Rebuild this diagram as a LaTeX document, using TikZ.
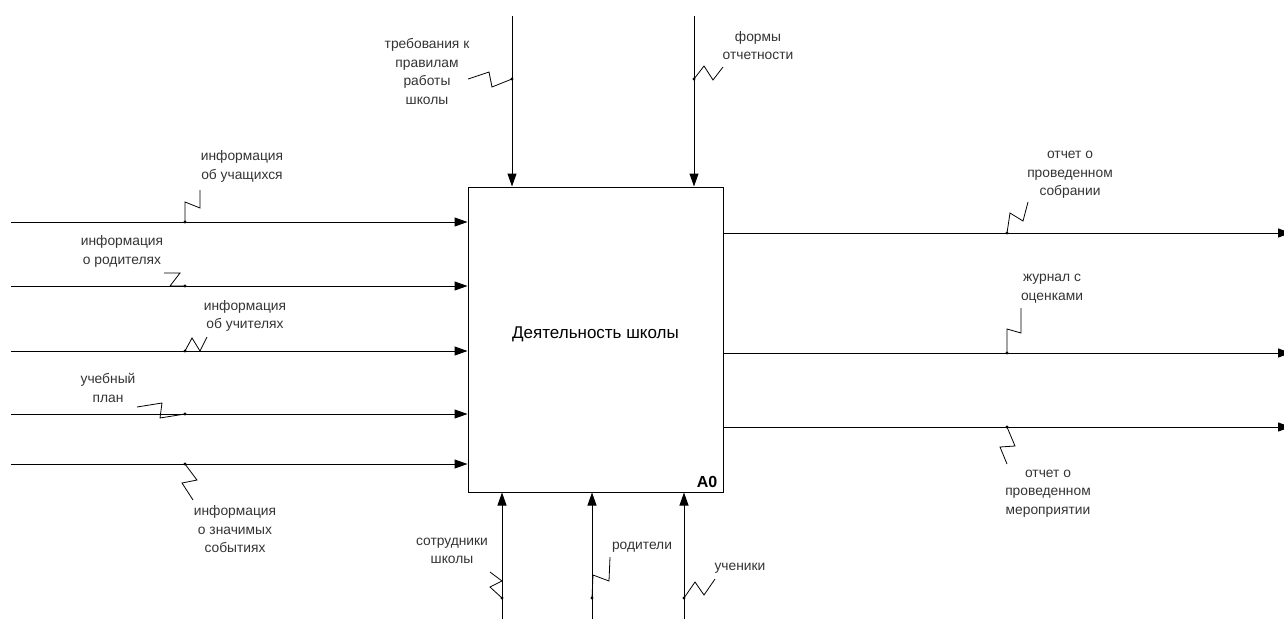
\documentclass[tikz,border=0pt]{standalone}
\usepackage{fontspec}
\setmainfont{Liberation Sans}
\usetikzlibrary{positioning,arrows.meta}

\begin{document}
\begin{tikzpicture}[
        x=1pt, y=-1pt,
        every node/.style={font=\fontsize{13.8}{18.5}\selectfont, text=black!80},
        lbl/.style={align=center, inner sep=0pt},
        actbox/.style={draw, line width=1pt, minimum width=255pt, minimum height=305pt, inner sep=0pt},
        arr/.style={-{Triangle[length=13pt, width=9pt]}, line width=1pt},
        squig/.style={line width=0.8pt},
        pin/.style={circle, fill, inner sep=0pt, minimum size=3.2pt}
    ]
    \useasboundingbox (0,0) rectangle (1284,619);

    % the activity
    \node[actbox] (act) at (595.5,339.5) {};
    \node[font=\fontsize{17}{20}\selectfont, text=black] (title) at ([yshift=5pt]act.center) {Деятельность школы};
    \node[font=\bfseries\fontsize{16}{18}\selectfont, text=black, anchor=south east, inner sep=0pt] (num) at ([xshift=-6pt, yshift=5pt]act.south east) {A0};

    % controls
    \coordinate (c1) at (512,16);
    \coordinate (c2) at (694,16);
    \draw[arr] (c1) -- (c1 |- act.north);
    \draw[arr] (c2) -- (c2 |- act.north);

    % inputs
    \coordinate (i1) at (11,222);
    \coordinate (i2) at (11,286);
    \coordinate (i3) at (11,351);
    \coordinate (i4) at (11,414);
    \coordinate (i5) at (11,464);
    \foreach \n in {i1,i2,i3,i4,i5}
        \draw[arr] (\n) -- (\n -| act.west);

    % outputs
    \coordinate (o1) at (1291,233);
    \coordinate (o2) at (1291,353);
    \coordinate (o3) at (1291,427);
    \foreach \n in {o1,o2,o3}
        \draw[arr] (\n -| act.east) -- (\n);

    % mechanisms
    \coordinate (m1) at (502,619);
    \coordinate (m2) at (592,619);
    \coordinate (m3) at (684,619);
    \foreach \n in {m1,m2,m3}
        \draw[arr] (\n) -- (\n |- act.south);

    % labels
    \node[lbl] (lc1) at (427,71.5) {требования к\\правилам\\работы\\школы};
    \node[lbl] (lc2) at (758,45.5) {формы\\отчетности};
    \node[lbl] (li1) at (242,166.5) {информация\\об учащихся};
    \node[lbl] (li2) at (122,251.5) {информация\\о родителях};
    \node[lbl] (li3) at (245,316) {информация\\об учителях};
    \node[lbl] (li4) at (108,388) {учебный\\план};
    \node[lbl] (li5) at (235,529.5) {информация\\о значимых\\событиях};
    \node[lbl] (lm1) at (452,551) {сотрудники\\школы};
    \node[lbl] (lm2) at (642,547) {родители};
    \node[lbl] (lm3) at (740,568) {ученики};
    \node[lbl] (lo1) at (1070,175) {отчет о\\проведенном\\собрании};
    \node[lbl] (lo2) at (1052,288.5) {журнал с\\оценками};
    \node[lbl] (lo3) at (1048,493.5) {отчет о\\проведенном\\мероприятии};

    % attachment points
    \node[pin] (pc1) at (c1 |- 0,79) {};
    \node[pin] (pc2) at (c2 |- 0,79) {};
    \node[pin] (pi1) at (185,222) {};
    \node[pin] (pi2) at (185,286) {};
    \node[pin] (pi3) at (185,351) {};
    \node[pin] (pi4) at (185,414) {};
    \node[pin] (pi5) at (185,464) {};
    \node[pin] (pm1) at (m1 |- 0,598) {};
    \node[pin] (pm2) at (m2 |- 0,598) {};
    \node[pin] (pm3) at (m3 |- 0,598) {};
    \node[pin] (po1) at (1007,233) {};
    \node[pin] (po2) at (1007,353) {};
    \node[pin] (po3) at (1007,427) {};

    % squiggles
    \draw[squig] (pc1.center) -- ++(-20,8) -- ++(-3,-15) -- ++(-21,7);
    \draw[squig] (pc2.center) -- ++(10,-13) -- ++(9,14) -- ++(10,-13);
    \draw[squig] (pi1.center) -- ++(0,-20) -- ++(15,6) -- ++(0,-18);
    \draw[squig] (pi2.center) -- ++(-15,0) -- ++(10,-13) -- ++(-16,0);
    \draw[squig] (pi3.center) -- ++(7,-13) -- ++(8,13) -- ++(7,-14);
    \draw[squig] (pi4.center) -- ++(-25,4) -- ++(2,-15) -- ++(-25,4);
    \draw[squig] (pi5.center) -- ++(12,16) -- ++(-15,3) -- ++(11,17);
    \draw[squig] (pm1.center) -- ++(-12,-11) -- ++(12,-6) -- ++(-12,-9);
    \draw[squig] (pm2.center) -- ++(1,-23) -- ++(16,6) -- ++(1,-24);
    \draw[squig] (pm3.center) -- ++(11,-16) -- ++(9,13) -- ++(11,-16);
    \draw[squig] (po1.center) -- ++(3,-20) -- ++(13,8) -- ++(5,-19);
    \draw[squig] (po2.center) -- ++(0,-24) -- ++(14,4) -- ++(0,-25);
    \draw[squig] (po3.center) -- ++(8,19) -- ++(-15,1) -- ++(7,17);
\end{tikzpicture}
\end{document}
